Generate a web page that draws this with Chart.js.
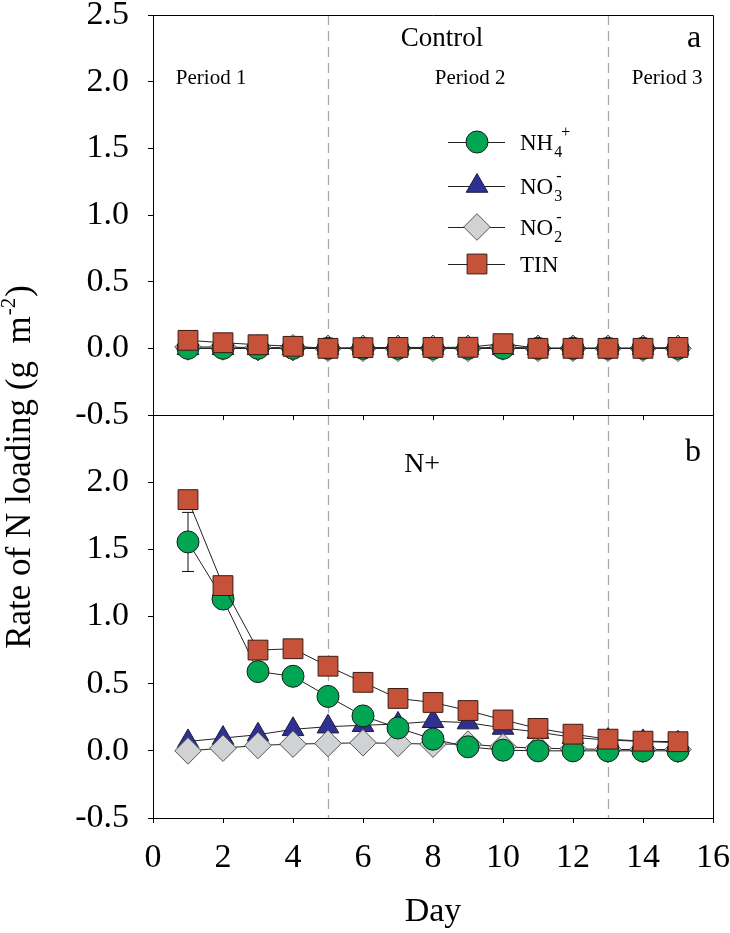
<!DOCTYPE html>
<html>
<head>
<meta charset="utf-8">
<script src="https://cdn.jsdelivr.net/npm/chart.js@4"></script>
<style>
html,body{margin:0;padding:0;background:#fff;}
#wrap{position:relative;width:730px;height:933px;background:#fff;}
canvas{position:absolute;left:0;top:0;}
</style>
</head>
<body>
<div id="wrap">
<canvas id="cBottom" width="730" height="933"></canvas>
<canvas id="cTop" width="730" height="933"></canvas>
</div>
<script>
const FONT = '"Liberation Serif","Times New Roman",Times,serif';

// ---- data ----
const days = [1,2,3,4,5,6,7,8,9,10,11,12,13,14,15];
const xTickValues = [0,2,4,6,8,10,12,14,16];
const yTickValues = [-0.5,0,0.5,1,1.5,2,2.5];
const periodBreaks = [5,13];

// Control (panel a)
const ctrlNH4 = [0,0,0,0,0,0,0,0,0,0,0,0,0,0,0];
const ctrlNO3 = [0,0,0,0,0,0,0,0,0,0,0,0,0,0,0];
const ctrlNO2 = [0.01,0.01,0.005,0.005,0,0,0,0,0,0.01,0,0,0,0,0];
const ctrlTIN = [0.06,0.042,0.027,0.015,0.0,0.005,0.007,0.007,0.008,0.035,0,0,0,0,0.007];

// N+ (panel b)
const nNH4 = [1.555,1.13,0.59,0.555,0.405,0.26,0.17,0.087,0.03,0.005,0,0,0,0,0];
const nNH4Err = [0.22,0,0,0,0,0,0,0,0,0,0,0,0,0,0];
const nNO3 = [0.07,0.095,0.12,0.16,0.18,0.19,0.2,0.22,0.21,0.17,0.14,0.1,0.08,0.07,0.06];
const nNO2 = [0,0.02,0.04,0.05,0.055,0.06,0.055,0.05,0.05,0.03,0.02,0.015,0.01,0.01,0.01];
const nTIN = [1.87,1.23,0.75,0.76,0.63,0.51,0.39,0.36,0.30,0.23,0.167,0.124,0.087,0.072,0.068];

// ---- styles ----
const styles = {
  NH4: {pointStyle:'circle',  radius:11,   fill:'#00A651', stroke:'#1b1b1b', order:1},
  NO3: {pointStyle:'triangle',radius:12.5, fill:'#2E3192', stroke:'#1b1b3b', order:3},
  NO2: {pointStyle:'rectRot', radius:13.3, fill:'#D1D2D4', stroke:'#555555', order:2},
  TIN: {pointStyle:'rect',    radius:14,   fill:'#C7523A', stroke:'#3b1b12', order:0}
};

function makeDataset(key, values, errors) {
  const s = styles[key];
  return {
    label: key,
    data: days.map((d,i)=>({x:d, y:values[i]})),
    errors: errors || null,
    borderColor:'#222',
    borderWidth:1,
    tension:0,
    fill:false,
    pointStyle:s.pointStyle,
    pointRadius:s.radius,
    pointHoverRadius:s.radius,
    pointBackgroundColor:s.fill,
    pointBorderColor:s.stroke,
    pointBorderWidth:1,
    order:s.order
  };
}

function makeScales(o) {
  return {
    x: {
      type:'linear', min:0, max:16,
      afterBuildTicks: s => { s.ticks = xTickValues.map(v=>({value:v})); },
      ticks:{display:o.showX, font:{family:FONT,size:34}, color:'#000', padding:15,
             maxRotation:0, autoSkip:false, callback:v=>String(v)},
      grid:{drawOnChartArea:false, drawTicks:true, tickLength:5, color:'#000', lineWidth:1},
      border:{display:true, color:'#000', width:1},
      title: o.showX ? {display:true, text:'Day', color:'#000',
                        font:{family:FONT,size:34}, padding:{top:0,bottom:1}} : {display:false},
      afterFit: s => { s.height = o.xHeight; s.paddingLeft = 0; s.paddingRight = 0; }
    },
    y: {
      type:'linear', min:-0.5, max:2.5,
      afterBuildTicks: s => { s.ticks = yTickValues.map(v=>({value:v})); },
      ticks:{font:{family:FONT,size:34}, color:'#000', padding:19,
             callback: v => (o.hideTop && Math.abs(v-2.5)<1e-9) ? '' : Number(v).toFixed(1)},
      grid:{drawOnChartArea:false, drawTicks:true, tickLength:5, color:'#000', lineWidth:1},
      border:{display:true, color:'#000', width:1},
      afterFit: s => { s.width = 153; s.paddingTop = 0; s.paddingBottom = 0; }
    }
  };
}

// ---- plugins ----
const framePlugin = {
  id:'frame',
  afterDraw(chart){
    const {ctx, chartArea:{left,top,right,bottom}} = chart;
    ctx.save();
    ctx.strokeStyle = '#000'; ctx.lineWidth = 1;
    ctx.beginPath();
    const L = Math.round(left)+0.5, T = Math.round(top)+0.5, R = Math.round(right)+0.5, B = Math.round(bottom)+0.5;
    ctx.moveTo(L,T); ctx.lineTo(R,T); ctx.lineTo(R,B);
    ctx.stroke();
    ctx.restore();
  }
};

const periodPlugin = {
  id:'periods',
  beforeDatasetsDraw(chart){
    const {ctx, chartArea:{top,bottom}, scales:{x}} = chart;
    ctx.save();
    ctx.strokeStyle = '#aaaaaa'; ctx.lineWidth = 1.3;
    ctx.setLineDash([10,6]);
    periodBreaks.forEach(v=>{
      const px = Math.round(x.getPixelForValue(v))+0.5;
      ctx.beginPath(); ctx.moveTo(px, top); ctx.lineTo(px, bottom); ctx.stroke();
    });
    ctx.restore();
  }
};

const errorPlugin = {
  id:'errorbars',
  beforeDatasetsDraw(chart){
    const {ctx, scales:{x,y}} = chart;
    ctx.save();
    ctx.strokeStyle = '#111'; ctx.lineWidth = 1;
    chart.data.datasets.forEach(ds=>{
      if (!ds.errors) return;
      ds.data.forEach((p,i)=>{
        const e = ds.errors[i];
        if (!e) return;
        const px = x.getPixelForValue(p.x);
        const y1 = y.getPixelForValue(p.y + e), y2 = y.getPixelForValue(p.y - e);
        ctx.beginPath();
        ctx.moveTo(px, y1); ctx.lineTo(px, y2);
        ctx.moveTo(px-6, y1); ctx.lineTo(px+6, y1);
        ctx.moveTo(px-6, y2); ctx.lineTo(px+6, y2);
        ctx.stroke();
      });
    });
    ctx.restore();
  }
};

function textPlugin(items){
  return {
    id:'texts',
    afterDraw(chart){
      const {ctx, scales:{x,y}} = chart;
      ctx.save();
      ctx.fillStyle = '#000';
      ctx.textAlign = 'center';
      ctx.textBaseline = 'alphabetic';
      items.forEach(it=>{
        ctx.font = it.size + 'px ' + FONT;
        ctx.fillText(it.text, x.getPixelForValue(it.x), y.getPixelForValue(it.y));
      });
      ctx.restore();
    }
  };
}

function drawMarker(ctx, key, cx, cy){
  const s = styles[key];
  const r = s.radius;
  ctx.save();
  ctx.fillStyle = s.fill; ctx.strokeStyle = s.stroke; ctx.lineWidth = 1;
  ctx.beginPath();
  if (s.pointStyle === 'circle') {
    ctx.arc(cx, cy, r, 0, Math.PI*2);
  } else if (s.pointStyle === 'triangle') {
    let a = 0;
    ctx.moveTo(cx + Math.sin(a)*r, cy - Math.cos(a)*r);
    a += 2*Math.PI/3; ctx.lineTo(cx + Math.sin(a)*r, cy - Math.cos(a)*r);
    a += 2*Math.PI/3; ctx.lineTo(cx + Math.sin(a)*r, cy - Math.cos(a)*r);
    ctx.closePath();
  } else if (s.pointStyle === 'rectRot') {
    ctx.moveTo(cx, cy-r); ctx.lineTo(cx+r, cy); ctx.lineTo(cx, cy+r); ctx.lineTo(cx-r, cy);
    ctx.closePath();
  } else {
    const h = r*Math.SQRT1_2;
    ctx.rect(cx-h, cy-h, 2*h, 2*h);
  }
  ctx.fill(); ctx.stroke();
  ctx.restore();
}

const legendItems = [
  {key:'NH4', main:'NH', sub:'4', sup:'+'},
  {key:'NO3', main:'NO', sub:'3', sup:'-'},
  {key:'NO2', main:'NO', sub:'2', sup:'-'},
  {key:'TIN', main:'TIN', sub:'', sup:''}
];
const legendRows = [142,186,227,264];

const legendPlugin = {
  id:'customLegend',
  afterDraw(chart){
    const ctx = chart.ctx;
    ctx.save();
    legendItems.forEach((it,i)=>{
      const yy = legendRows[i];
      ctx.strokeStyle = '#222'; ctx.lineWidth = 1;
      ctx.beginPath(); ctx.moveTo(448, yy+0.5); ctx.lineTo(505, yy+0.5); ctx.stroke();
      drawMarker(ctx, it.key, 477, yy);
      ctx.fillStyle = '#000';
      ctx.textAlign = 'left'; ctx.textBaseline = 'alphabetic';
      ctx.font = '23px ' + FONT;
      const base = yy + 8;
      ctx.fillText(it.main, 520, base);
      const w = ctx.measureText(it.main).width;
      ctx.font = '16px ' + FONT;
      if (it.sub) ctx.fillText(it.sub, 520 + w + 1, base + 7);
      if (it.sup) {
        const dx = it.sup === '+' ? 8 : 3;
        ctx.fillText(it.sup, 520 + w + dx, base - 13);
      }
    });
    ctx.restore();
  }
};

const yTitlePlugin = {
  id:'yTitle',
  afterDraw(chart){
    const ctx = chart.ctx;
    const main = 'Rate of N loading (g  m', sup = '-2', tail = ')';
    ctx.save();
    ctx.fillStyle = '#000';
    ctx.textBaseline = 'alphabetic'; ctx.textAlign = 'left';
    ctx.font = '35px ' + FONT;
    const wMain = ctx.measureText(main).width;
    const wTail = ctx.measureText(tail).width;
    ctx.font = '21px ' + FONT;
    const wSup = ctx.measureText(sup).width;
    const total = wMain + wSup + wTail + 2;
    ctx.translate(30, 467);
    ctx.rotate(-Math.PI/2);
    let xx = -total/2;
    ctx.font = '35px ' + FONT;
    ctx.fillText(main, xx, 0); xx += wMain + 1;
    ctx.font = '21px ' + FONT;
    ctx.fillText(sup, xx, -15); xx += wSup + 1;
    ctx.font = '35px ' + FONT;
    ctx.fillText(tail, xx, 0);
    ctx.restore();
  }
};

const commonOpts = {
  responsive:false, animation:false, devicePixelRatio:1,
  events:[],
  plugins:{legend:{display:false}, tooltip:{enabled:false}}
};

// ---- top chart (Control) ----
new Chart(document.getElementById('cTop'), {
  type:'line',
  data:{datasets:[
    makeDataset('TIN', ctrlTIN),
    makeDataset('NH4', ctrlNH4),
    makeDataset('NO2', ctrlNO2),
    makeDataset('NO3', ctrlNO3)
  ]},
  options:Object.assign({}, commonOpts, {
    layout:{padding:{top:13, right:17, left:0, bottom:508}},
    scales:makeScales({showX:false, xHeight:10, hideTop:false})
  }),
  plugins:[periodPlugin, framePlugin, legendPlugin, textPlugin([
    {text:'Control', x:8.26, y:2.269, size:27},
    {text:'a', x:15.46, y:2.262, size:32},
    {text:'Period 1', x:1.66, y:1.986, size:21},
    {text:'Period 2', x:9.06, y:1.986, size:21},
    {text:'Period 3', x:14.69, y:1.986, size:21}
  ])]
});

// ---- bottom chart (N+) ----
new Chart(document.getElementById('cBottom'), {
  type:'line',
  data:{datasets:[
    makeDataset('TIN', nTIN),
    makeDataset('NH4', nNH4, nNH4Err),
    makeDataset('NO2', nNO2),
    makeDataset('NO3', nNO3)
  ]},
  options:Object.assign({}, commonOpts, {
    layout:{padding:{top:415, right:17, left:0, bottom:0}},
    scales:makeScales({showX:true, xHeight:115, hideTop:true})
  }),
  plugins:[periodPlugin, errorPlugin, framePlugin, yTitlePlugin, textPlugin([
    {text:'N+', x:7.69, y:2.076, size:28},
    {text:'b', x:15.43, y:2.158, size:32}
  ])]
});
</script>
</body>
</html>
